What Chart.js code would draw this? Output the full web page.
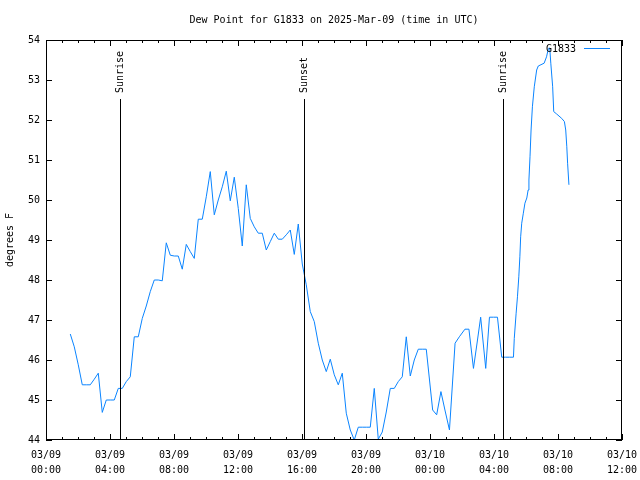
<!DOCTYPE html>
<html>
<head>
<meta charset="utf-8">
<title>Dew Point for G1833</title>
<script src="https://cdn.jsdelivr.net/npm/chart.js@4.4.1/dist/chart.umd.min.js"></script>
<style>
  html, body { margin: 0; padding: 0; background: #fff; }
  #wrap { width: 640px; height: 480px; }
</style>
</head>
<body>
<div id="wrap"><canvas id="chart" width="640" height="480"></canvas></div>
<script>
// readings, station G1833 (time in UTC)
const times = [
  "03/09 01:31", "03/09 01:46", "03/09 02:01", "03/09 02:16", "03/09 02:31", "03/09 02:46",
  "03/09 03:01", "03/09 03:16", "03/09 03:31", "03/09 03:46", "03/09 04:01", "03/09 04:16",
  "03/09 04:31", "03/09 04:46", "03/09 05:01", "03/09 05:16", "03/09 05:31", "03/09 05:46",
  "03/09 06:01", "03/09 06:16", "03/09 06:31", "03/09 06:46", "03/09 07:01", "03/09 07:16",
  "03/09 07:31", "03/09 07:46", "03/09 08:01", "03/09 08:16", "03/09 08:31", "03/09 08:46",
  "03/09 09:01", "03/09 09:16", "03/09 09:31", "03/09 09:46", "03/09 10:01", "03/09 10:16",
  "03/09 10:31", "03/09 10:46", "03/09 11:01", "03/09 11:16", "03/09 11:31", "03/09 11:46",
  "03/09 12:01", "03/09 12:16", "03/09 12:31", "03/09 12:46", "03/09 13:01", "03/09 13:16",
  "03/09 13:31", "03/09 13:46", "03/09 14:01", "03/09 14:16", "03/09 14:31", "03/09 14:46",
  "03/09 15:01", "03/09 15:16", "03/09 15:31", "03/09 15:46", "03/09 16:01", "03/09 16:16",
  "03/09 16:31", "03/09 16:46", "03/09 17:01", "03/09 17:16", "03/09 17:31", "03/09 17:46",
  "03/09 18:01", "03/09 18:16", "03/09 18:31", "03/09 18:46", "03/09 19:01", "03/09 19:16",
  "03/09 19:31", "03/09 19:46", "03/09 20:01", "03/09 20:16", "03/09 20:31", "03/09 20:46",
  "03/09 21:01", "03/09 21:16", "03/09 21:31", "03/09 21:46", "03/09 22:01", "03/09 22:16",
  "03/09 22:31", "03/09 22:46", "03/09 23:01", "03/09 23:16", "03/09 23:31", "03/09 23:46",
  "03/10 00:10", "03/10 00:25", "03/10 00:41", "03/10 00:56", "03/10 01:13", "03/10 01:34",
  "03/10 01:50", "03/10 02:11", "03/10 02:26", "03/10 02:43", "03/10 02:56", "03/10 03:10",
  "03/10 03:29", "03/10 03:43", "03/10 03:58", "03/10 04:13", "03/10 04:29", "03/10 04:43",
  "03/10 04:58", "03/10 05:13", "03/10 05:16", "03/10 05:23", "03/10 05:28", "03/10 05:33",
  "03/10 05:37", "03/10 05:40", "03/10 05:44", "03/10 05:50", "03/10 05:56", "03/10 06:03",
  "03/10 06:08", "03/10 06:11", "03/10 06:15", "03/10 06:19", "03/10 06:24", "03/10 06:31",
  "03/10 06:40", "03/10 06:46", "03/10 07:08", "03/10 07:17", "03/10 07:24", "03/10 07:29",
  "03/10 07:33", "03/10 07:40", "03/10 07:44", "03/10 07:55", "03/10 08:14", "03/10 08:24",
  "03/10 08:29", "03/10 08:33", "03/10 08:36", "03/10 08:41",
];
const dewPoint = [
  46.65, 46.33, 45.88, 45.38, 45.38, 45.38,
  45.52, 45.67, 44.69, 45.0, 45.0, 45.0,
  45.29, 45.29, 45.46, 45.58, 46.58, 46.58,
  47.04, 47.35, 47.71, 48.0, 48.0, 47.98,
  48.93, 48.62, 48.6, 48.6, 48.27, 48.89,
  48.71, 48.54, 49.52, 49.52, 50.08, 50.71,
  49.63, 50.0, 50.33, 50.72, 49.98, 50.57,
  49.79, 48.85, 50.38, 49.54, 49.33, 49.17,
  49.17, 48.75, 48.96, 49.17, 49.02, 49.02,
  49.13, 49.25, 48.64, 49.4, 48.4, 47.88,
  47.21, 46.96, 46.42, 46.0, 45.71, 46.02,
  45.63, 45.38, 45.67, 44.67, 44.25, 44.0,
  44.32, 44.32, 44.32, 44.32, 45.29, 44.02,
  44.2, 44.7, 45.29, 45.29, 45.46, 45.58,
  46.58, 45.6, 46.0, 46.27, 46.27, 46.27,
  44.75, 44.63, 45.21, 44.75, 44.25, 46.42,
  46.58, 46.77, 46.77, 45.79, 46.4, 47.07,
  45.79, 47.07, 47.07, 47.07, 46.07, 46.07,
  46.07, 46.07, 46.54, 47.17, 47.58, 48.08,
  48.58, 49.08, 49.42, 49.67, 49.92, 50.05,
  50.25, 50.5, 51.08, 51.75, 52.33, 52.83,
  53.25, 53.35, 53.42, 53.58, 53.79, 53.8,
  53.42, 52.83, 52.21, 52.15, 52.04, 51.96,
  51.75, 51.33, 50.92, 50.38,
];

// sunrise / sunset markers
const eventLabels = ["Sunrise", "Sunset", "Sunrise"];
const eventTimes = ["03/09 04:37", "03/09 16:07", "03/10 04:34"];

// axis ranges, hours from 03/09 00:00
const xMin = 0;
const xMax = 36;
const yMin = 44;
const yMax = 54;

const seriesName = "G1833";
const titleText = "Dew Point for G1833 on 2025-Mar-09 (time in UTC)";
const yTitle = "degrees F";

function toHours(s) {
  // "03/09 04:37" -> hours since 03/09 00:00
  const day = Number(s.slice(3, 5));
  const h = Number(s.slice(6, 8));
  const m = Number(s.slice(9, 11));
  return (day - 9) * 24 + h + m / 60;
}

function pad2(n) {
  return String(n).padStart(2, "0");
}

const points = times.map((t, i) => ({ x: toHours(t), y: dewPoint[i] }));

const mono = "'DejaVu Sans Mono', 'Liberation Mono', monospace";
Chart.defaults.font.family = mono;
Chart.defaults.font.size = 10;
Chart.defaults.color = "#000";

const lineColor = "#0a84ff";

// frame, ticks, title, sunrise/sunset lines and key, gnuplot style
const decor = {
  id: "decor",
  afterDraw(chart) {
    const c = chart.ctx;
    const a = chart.chartArea;
    const xs = chart.scales.x;
    const ys = chart.scales.y;
    c.save();
    c.strokeStyle = "#000";
    c.lineWidth = 1;
    c.fillStyle = "#000";

    // title
    c.font = "10px " + mono;
    c.textAlign = "center";
    c.textBaseline = "middle";
    c.fillText(titleText, (a.left + a.right) / 2, 20);

    // frame
    c.strokeRect(a.left + 0.5, a.top + 0.5, a.right - a.left - 1, a.bottom - a.top - 1);

    // x ticks, minor every hour
    c.beginPath();
    for (let h = xMin; h <= xMax; h++) {
      const px = Math.round(xs.getPixelForValue(h)) + 0.5;
      const len = h % 4 === 0 ? 6 : 3;
      c.moveTo(px, a.bottom);
      c.lineTo(px, a.bottom - len);
      c.moveTo(px, a.top);
      c.lineTo(px, a.top + len);
    }
    // y ticks
    for (let v = yMin; v <= yMax; v++) {
      const py = Math.round(ys.getPixelForValue(v)) + 0.5;
      c.moveTo(a.left, py);
      c.lineTo(a.left + 6, py);
      c.moveTo(a.right, py);
      c.lineTo(a.right - 6, py);
    }
    c.stroke();

    // sunrise / sunset
    eventTimes.forEach((t, i) => {
      const px = Math.round(xs.getPixelForValue(toHours(t))) + 0.5;
      c.beginPath();
      c.moveTo(px, 99);
      c.lineTo(px, a.bottom);
      c.stroke();
      c.save();
      c.translate(px, 93);
      c.rotate(-Math.PI / 2);
      c.textAlign = "left";
      c.textBaseline = "middle";
      c.fillText(eventLabels[i], 0, 0);
      c.restore();
    });

    // key
    c.textAlign = "right";
    c.textBaseline = "middle";
    c.fillText(seriesName, 576, 49);
    c.strokeStyle = lineColor;
    c.beginPath();
    c.moveTo(584, 48.5);
    c.lineTo(610, 48.5);
    c.stroke();
    c.restore();
  },
};

const ctx = document.getElementById("chart");

const dewChart = new Chart(ctx, {
  type: "line",
  data: {
    datasets: [
      {
        label: seriesName,
        data: points,
        borderColor: lineColor,
        borderWidth: 1,
        pointRadius: 0,
        tension: 0,
        fill: false,
      },
    ],
  },
  options: {
    responsive: false,
    animation: false,
    layout: {
      padding: { left: 0, right: 18, top: 40, bottom: 0 },
    },
    plugins: {
      legend: { display: false },
      title: { display: false },
      tooltip: { enabled: false },
    },
    scales: {
      x: {
        type: "linear",
        min: xMin,
        max: xMax,
        // invisible tick marks only push the labels down
        grid: {
          display: true,
          drawOnChartArea: false,
          drawTicks: true,
          tickLength: 7.5,
          color: "rgba(0,0,0,0)",
        },
        border: { display: false },
        ticks: {
          stepSize: 4,
          padding: 0,
          maxRotation: 0,
          autoSkip: false,
          font: { size: 10, lineHeight: 1.5 },
          callback: (value) => {
            const day = 9 + Math.floor(value / 24);
            const hour = value % 24;
            return ["03/" + pad2(day), pad2(hour) + ":00"];
          },
        },
        afterFit: (scale) => {
          scale.height = 40;
        },
      },
      y: {
        min: yMin,
        max: yMax,
        grid: { display: false, drawTicks: false },
        border: { display: false },
        ticks: {
          stepSize: 1,
          padding: 6,
        },
        title: {
          display: true,
          text: yTitle,
          padding: { top: 4, bottom: 0 },
          font: { size: 10 },
        },
        afterFit: (scale) => {
          scale.width = 46;
        },
      },
    },
  },
  plugins: [decor],
});
</script>
</body>
</html>
